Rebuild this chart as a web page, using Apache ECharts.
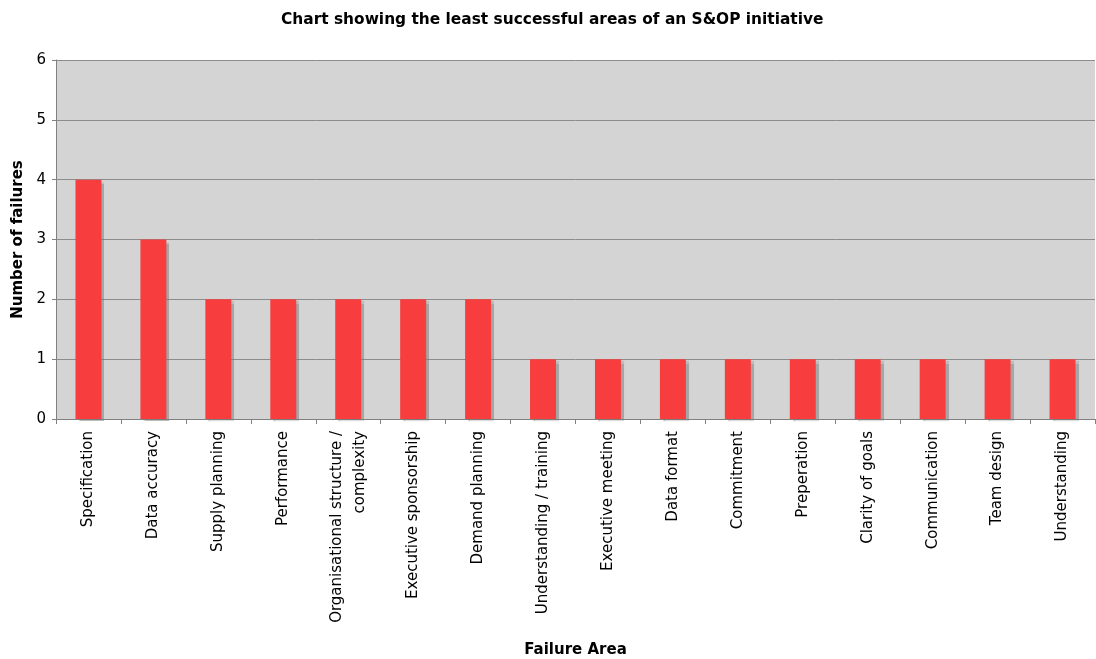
<!DOCTYPE html>
<html>
<head>
<meta charset="utf-8">
<script src="https://cdn.jsdelivr.net/npm/echarts@6/dist/echarts.min.js"></script>
<style>
  html, body { margin: 0; padding: 0; background: #ffffff; }
  #chart { width: 1096px; height: 659px; }
</style>
</head>
<body>
<div id="chart"></div>
<script>
// Failure areas and their counts
const categories = [
  'Specification', 'Data accuracy', 'Supply planning', 'Performance',
  'Organisational structure /\ncomplexity', 'Executive sponsorship', 'Demand planning',
  'Understanding / training', 'Executive meeting', 'Data format', 'Commitment',
  'Preperation', 'Clarity of goals', 'Communication', 'Team design', 'Understanding'
];
const failures = [4, 3, 2, 2, 2, 2, 2, 1, 1, 1, 1, 1, 1, 1, 1, 1];
const yTicks = [0, 1, 2, 3, 4, 5, 6];

const FONT = 'DejaVu Sans';
const chart = echarts.init(document.getElementById('chart'), null, { renderer: 'canvas' });

chart.setOption({
  animation: false,
  backgroundColor: '#ffffff',
  title: {
    text: 'Chart showing the least successful areas of an S&OP initiative',
    left: 276, top: 7,
    textStyle: { fontFamily: FONT, fontSize: 15.4, fontWeight: 'bold', color: '#000' }
  },
  grid: {
    left: 56, right: 1, top: 60, bottom: 240,
    outerBoundsMode: 'none',
    containLabel: false,
    show: true, backgroundColor: '#d4d4d4', borderWidth: 0
  },
  xAxis: {
    type: 'category',
    data: categories,
    name: 'Failure Area',
    nameLocation: 'middle',
    nameGap: 224,
    nameTextStyle: { fontFamily: FONT, fontSize: 15, fontWeight: 'bold', color: '#000' },
    axisLine: { lineStyle: { color: '#808080', width: 1 } },
    axisTick: { show: true, length: 5, lineStyle: { color: '#808080' } },
    axisLabel: {
      interval: 0, rotate: 90, margin: 12,
      fontFamily: FONT, fontSize: 15, color: '#000', lineHeight: 23
    }
  },
  yAxis: {
    type: 'value',
    min: yTicks[0], max: yTicks[yTicks.length - 1], interval: 1,
    name: 'Number of failures',
    nameLocation: 'middle',
    nameGap: 30,
    nameTextStyle: { fontFamily: FONT, fontSize: 15, fontWeight: 'bold', color: '#000' },
    axisLine: { show: true, lineStyle: { color: '#808080', width: 1 } },
    axisTick: { show: true, length: 4, lineStyle: { color: '#808080' } },
    axisLabel: { margin: 10, fontFamily: FONT, fontSize: 15, color: '#000' },
    splitLine: { show: true, lineStyle: { color: '#8c8c8c', width: 1 } }
  },
  series: [{
    type: 'bar',
    data: failures,
    barWidth: '40%',
    itemStyle: {
      color: '#f73d3d',
      shadowColor: 'rgba(120,120,120,0.5)',
      shadowBlur: 1,
      shadowOffsetX: 3,
      shadowOffsetY: 2
    }
  }]
});
</script>
</body>
</html>
